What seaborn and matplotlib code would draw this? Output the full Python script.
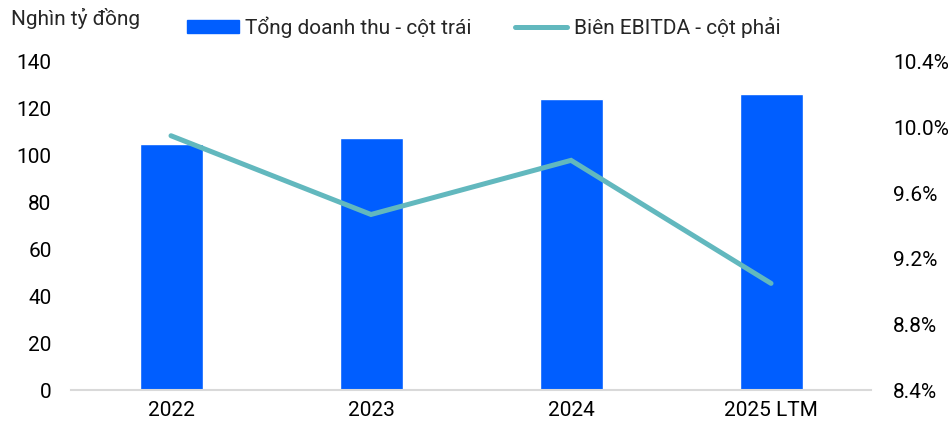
import matplotlib
matplotlib.use('Agg')
import matplotlib.pyplot as plt
import matplotlib.patches as mpatches
from matplotlib.lines import Line2D
import matplotlib.ticker as mticker
import pandas
import seaborn

years = ['2022', '2023', '2024', '2025 LTM']
revenue = [105, 107.4, 124.3, 126.2]          # nghìn tỷ đồng, left axis
ebitdaMargin = [9.95, 9.47, 9.80, 9.05]       # %, right axis

barColor = '#005EFF'
lineColor = '#62B8BE'

seaborn.set_style('white')
plt.rcParams['font.family'] = ['Roboto', 'DejaVu Sans']

Data = pandas.DataFrame({'year': years, 'revenue': revenue, 'margin': ebitdaMargin})

figure = plt.figure(figsize=(9.53, 4.30), dpi=100)
ax = figure.add_axes([0.0745, 0.093, 0.8395, 0.763])

seaborn.barplot(data=Data, x='year', y='revenue', color=barColor, width=0.315,
                saturation=1, ax=ax)
ax.set_ylim(0, 140)
ax.set_xlim(-0.5, 3.5)
ax.set_yticks(range(0, 141, 20))
ax.set_xlabel('')
ax.set_ylabel('')

ax2 = ax.twinx()
seaborn.lineplot(data=Data, x='year', y='margin', color=lineColor, linewidth=3.6,
                 ax=ax2, solid_capstyle='round', solid_joinstyle='miter')
ax2.set_ylim(8.4, 10.4)
ax2.set_yticks([8.4, 8.8, 9.2, 9.6, 10.0, 10.4])
ax2.yaxis.set_major_formatter(mticker.FuncFormatter(lambda v, p: f'{v:.1f}%'))
ax2.set_ylabel('')
ax2.set_xlim(-0.5, 3.5)

for a in (ax, ax2):
    for side in ['top', 'left', 'right', 'bottom']:
        a.spines[side].set_visible(False)
    a.tick_params(length=0, labelsize=15, colors='black')
ax.spines['bottom'].set_visible(True)
ax.spines['bottom'].set_color('#D9D9D9')
ax.spines['bottom'].set_linewidth(1.5)
ax.tick_params(axis='y', pad=14)
ax.tick_params(axis='x', pad=8)
ax2.tick_params(axis='y', pad=16)

figure.text(0.012, 0.958, 'Nghìn tỷ đồng', fontsize=15, va='center', ha='left')

# Need to help matplotlib with the legend
revenueLegend = mpatches.Patch(color=barColor, label='Tổng doanh thu - cột trái')
marginLegend = Line2D([0], [0], color=lineColor, linewidth=3.6, solid_capstyle='round',
                      label='Biên EBITDA - cột phải')
figure.legend(handles=[revenueLegend, marginLegend], loc='center left',
              bbox_to_anchor=(0.185, 0.937), ncol=2, frameon=False, fontsize=15,
              borderpad=0, handlelength=2.5, handleheight=0.58, handletextpad=0.3,
              columnspacing=2.1)

figure.savefig('out.png', dpi=100)
plt.close()
